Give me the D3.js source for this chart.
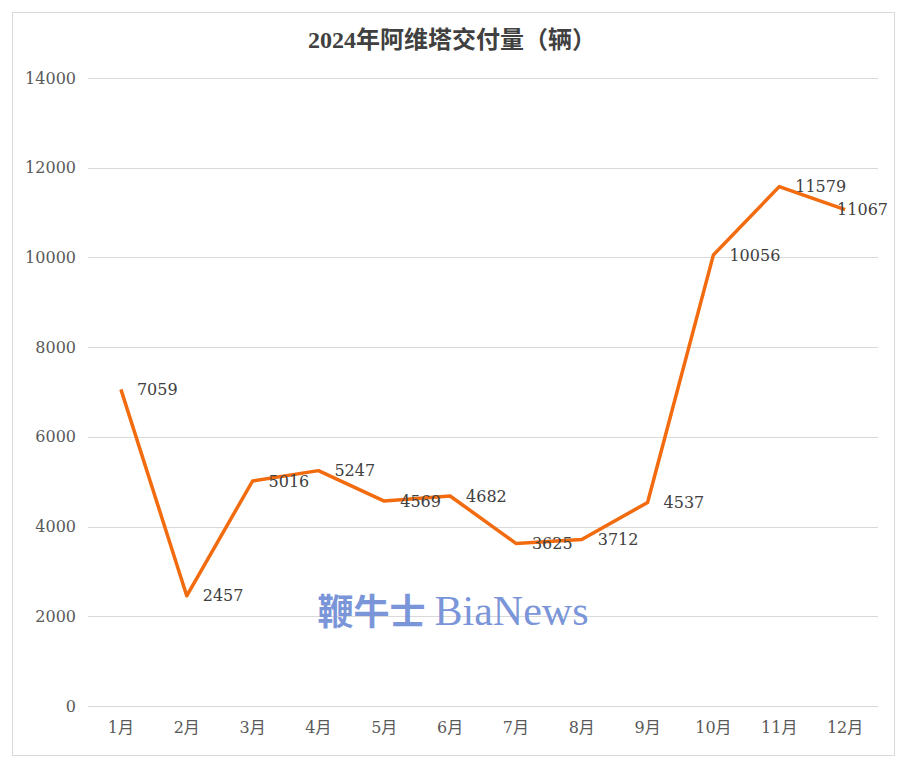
<!DOCTYPE html>
<html>
<head>
<meta charset="utf-8">
<script src="https://cdn.jsdelivr.net/npm/d3@7"></script>
<style>
  body { margin: 0; background: #fff; }
  text { font-family: "DejaVu Serif", "Liberation Serif", "Noto Sans CJK SC", serif; }
</style>
</head>
<body>
<svg width="906" height="766"></svg>
<script>
// data
const months = ["1月","2月","3月","4月","5月","6月","7月","8月","9月","10月","11月","12月"];
const deliveries = [7059, 2457, 5016, 5247, 4569, 4682, 3625, 3712, 4537, 10056, 11579, 11067];
const yTicks = [0, 2000, 4000, 6000, 8000, 10000, 12000, 14000];
const title = "2024年阿维塔交付量（辆）";

const svg = d3.select("svg");
const m = { left: 88, right: 878, top: 78, bottom: 706 };
const numFont = "'DejaVu Serif', 'Noto Sans CJK SC', serif";

// outer frame
svg.append("rect")
  .attr("x", 12.5).attr("y", 12.5)
  .attr("width", 882).attr("height", 743)
  .attr("fill", "#fff")
  .attr("stroke", "#d9d9d9");

const x = d3.scaleBand().domain(months).range([m.left, m.right]);
const y = d3.scaleLinear().domain([0, 14000]).range([m.bottom, m.top]);

// gridlines
svg.append("g")
  .selectAll("line")
  .data(yTicks)
  .join("line")
  .attr("x1", m.left).attr("x2", m.right)
  .attr("y1", d => Math.round(y(d)) + 0.5)
  .attr("y2", d => Math.round(y(d)) + 0.5)
  .attr("stroke", "#d9d9d9");

// y axis labels
const yAxis = svg.append("g")
  .attr("transform", `translate(${m.left - 12},0)`)
  .call(d3.axisLeft(y).tickValues(yTicks).tickFormat(d3.format("d")).tickSize(0).tickPadding(0));
yAxis.select(".domain").remove();
yAxis.selectAll("text")
  .attr("font-size", 16).attr("fill", "#595959")
  .style("font-family", numFont);

// x axis labels
const xAxis = svg.append("g")
  .attr("transform", `translate(0,${m.bottom + 16})`)
  .call(d3.axisBottom(x).tickSize(0).tickPadding(0));
xAxis.select(".domain").remove();
xAxis.selectAll("text")
  .attr("font-size", 16).attr("fill", "#595959")
  .style("font-family", numFont);

// watermark
const wm = svg.append("text")
  .attr("x", 453).attr("y", 625)
  .attr("text-anchor", "middle")
  .attr("fill", "#7b95d9")
  .style("font-family", "'Liberation Serif', 'Noto Sans CJK SC', serif");
wm.append("tspan").attr("font-size", 36).attr("font-weight", "bold").text("鞭牛士 ");
wm.append("tspan").attr("font-size", 42).text("BiaNews");

// line
const pts = months.map((mo, i) => ({ mo, v: deliveries[i] }));
const cx = d => x(d.mo) + x.bandwidth() / 2;
const line = d3.line().x(cx).y(d => y(d.v));
svg.append("path")
  .datum(pts)
  .attr("d", line)
  .attr("fill", "none")
  .attr("stroke", "#f26b0f")
  .attr("stroke-width", 3.5)
  .attr("stroke-linejoin", "round");

// value labels
svg.append("g")
  .selectAll("text")
  .data(pts)
  .join("text")
  .attr("x", d => cx(d) + 16)
  .attr("y", d => y(d.v))
  .attr("dy", "0.35em")
  .attr("font-size", 16)
  .attr("fill", "#404040")
  .style("font-family", numFont)
  .text(d => d.v)
  .each(function () {
    // keep labels inside the chart, like Excel does
    const w = this.getComputedTextLength();
    const xx = +this.getAttribute("x");
    if (xx + w > 888) this.setAttribute("x", 888 - w);
  });

// title
svg.append("text")
  .attr("x", 452).attr("y", 48)
  .attr("text-anchor", "middle")
  .attr("font-size", 24)
  .attr("font-weight", "bold")
  .attr("fill", "#404040")
  .style("font-family", "'Liberation Serif', 'Noto Sans CJK SC', serif")
  .text(title);
</script>
</body>
</html>
